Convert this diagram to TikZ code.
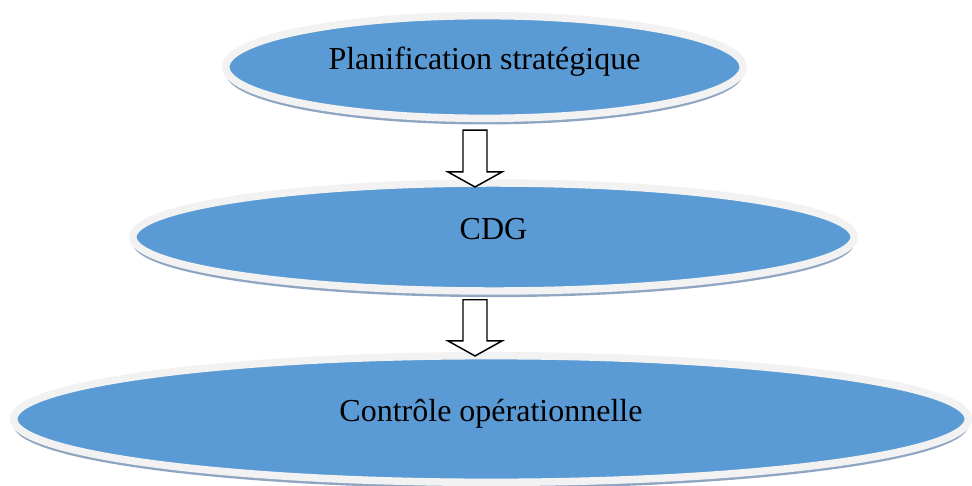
\documentclass[tikz,border=0pt]{standalone}
\usepackage{fontspec}
\setmainfont{Liberation Serif}
\usetikzlibrary{shapes.geometric,shadows}

\definecolor{ovalblue}{HTML}{5B9BD5}
\definecolor{rimgrey}{HTML}{F2F2F2}
\definecolor{shadowblue}{HTML}{8EA6C2}

\tikzset{
  oval/.style={ellipse, fill=ovalblue, draw=rimgrey, line width=5.6pt, inner sep=0pt,
    general shadow={fill=shadowblue, shadow yshift=-4.6pt},
    font=\fontsize{24}{29}\selectfont, text height=17pt, text depth=13pt},
  blockarrow/.style={draw=black, fill=white, line width=1.1pt, line join=miter}
}

\begin{document}
\begin{tikzpicture}[x=0.75pt,y=-0.75pt]
\clip (0,0) rectangle (972,486);

%the three levels
\node[oval, minimum width=388pt, minimum height=77pt] (plan) at (484.5,67) {Planification stratégique};
\node[oval, minimum width=541pt, minimum height=81pt] (cdg) at (493.5,237) {CDG};
\node[oval, minimum width=716pt, minimum height=95pt] (ctrl) at (491,419) {Contrôle opérationnelle};

%ends of the block arrows
\coordinate (a1) at ([shift={(-9.5,8)}]plan.south);
\coordinate (b1) at ([shift={(-18.5,7.7)}]cdg.north);
\coordinate (a2) at ([shift={(-18.5,5)}]cdg.south);
\coordinate (b2) at ([shift={(-16,4)}]ctrl.north);

%block arrows
\draw[blockarrow] ([shift={(-12,0)}]a1) -- ([shift={(-12,-15)}]b1) -- ([shift={(-27,-15)}]b1) -- (b1)
  -- ([shift={(27,-15)}]b1) -- ([shift={(12,-15)}]b1) -- ([shift={(12,0)}]a1) -- cycle;
\draw[blockarrow] ([shift={(-12,0)}]a2) -- ([shift={(-12,-15)}]b2) -- ([shift={(-27,-15)}]b2) -- (b2)
  -- ([shift={(27,-15)}]b2) -- ([shift={(12,-15)}]b2) -- ([shift={(12,0)}]a2) -- cycle;
\end{tikzpicture}
\end{document}
